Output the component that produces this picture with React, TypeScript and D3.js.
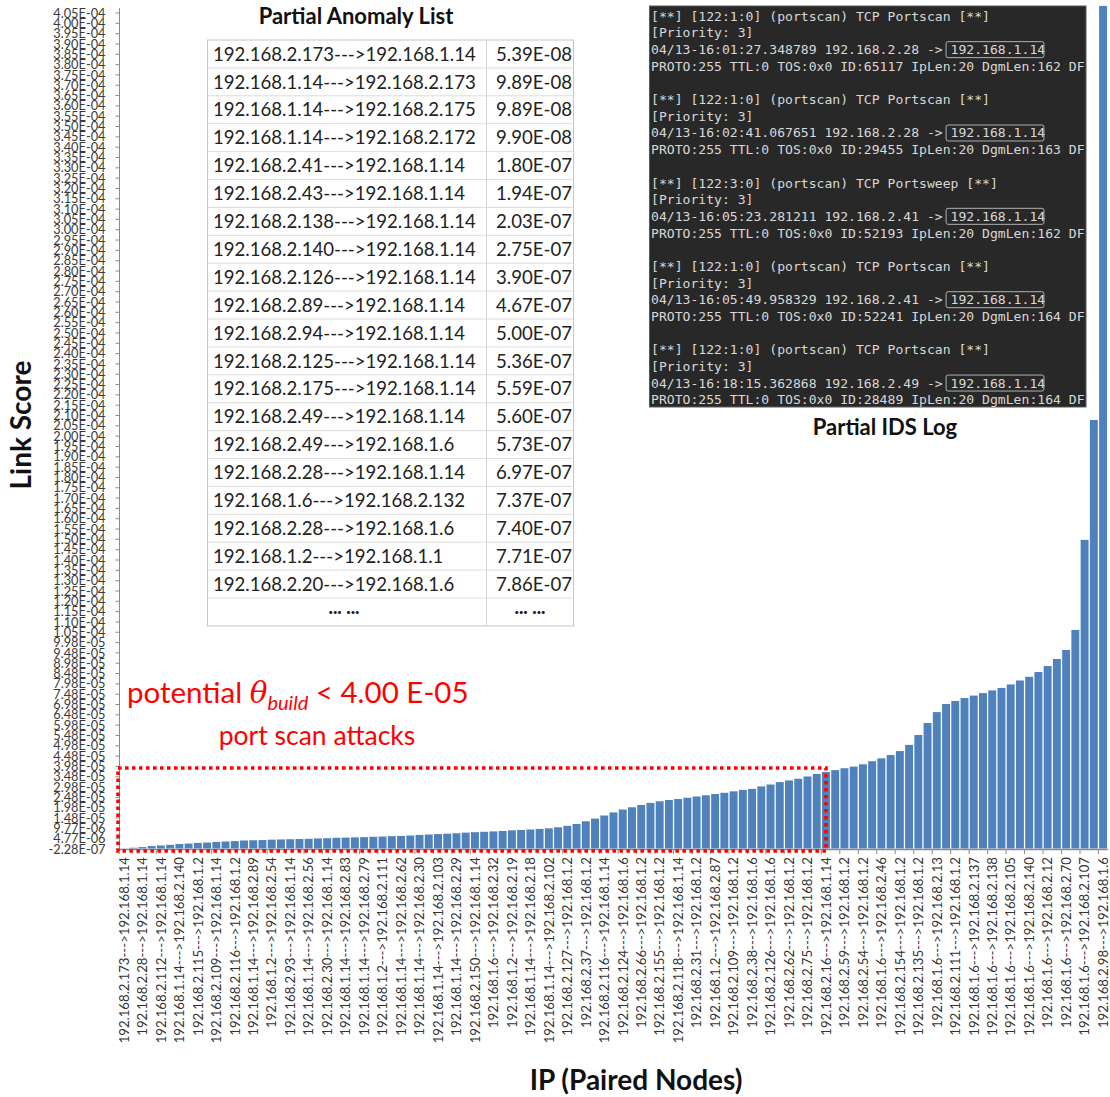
import React from "react";
import * as d3 from "d3";

// Sorted link scores for paired nodes (one bar per pair shown)
const linkScores = [
  5.39e-8, 3.9e-7, 6.97e-7, 1.2e-6, 1.47e-6, 1.8e-6, 2.2e-6, 2.4e-6, 2.7e-6, 2.9e-6,
  3.2e-6, 3.4e-6, 3.6e-6, 3.9e-6, 4.0e-6, 4.1e-6, 4.3e-6, 4.4e-6, 4.5e-6, 4.6e-6,
  4.7e-6, 4.9e-6, 5.0e-6, 5.2e-6, 5.3e-6, 5.4e-6, 5.5e-6, 5.7e-6, 5.8e-6, 6.0e-6,
  6.1e-6, 6.3e-6, 6.6e-6, 6.8e-6, 7.0e-6, 7.2e-6, 7.4e-6, 7.7e-6, 7.9e-6, 8.1e-6,
  8.3e-6, 8.5e-6, 8.8e-6, 9.0e-6, 9.2e-6, 9.5e-6, 9.8e-6, 1.03e-5, 1.10e-5, 1.19e-5,
  1.32e-5, 1.45e-5, 1.60e-5, 1.75e-5, 1.89e-5, 2.00e-5, 2.11e-5, 2.21e-5, 2.29e-5, 2.35e-5,
  2.40e-5, 2.46e-5, 2.52e-5, 2.58e-5, 2.64e-5, 2.70e-5, 2.77e-5, 2.84e-5, 2.89e-5, 3.01e-5,
  3.10e-5, 3.22e-5, 3.30e-5, 3.38e-5, 3.49e-5, 3.61e-5, 3.71e-5, 3.80e-5, 3.89e-5, 3.97e-5,
  4.08e-5, 4.23e-5, 4.37e-5, 4.53e-5, 4.72e-5, 5.02e-5, 5.50e-5, 6.08e-5, 6.61e-5, 7.00e-5,
  7.15e-5, 7.29e-5, 7.41e-5, 7.53e-5, 7.66e-5, 7.78e-5, 7.95e-5, 8.14e-5, 8.32e-5, 8.55e-5,
  8.84e-5, 9.18e-5, 9.62e-5, 1.059e-4, 1.495e-4, 2.076e-4, 4.082e-4,
];

// Category labels, printed on every second pair
const pairLabels = [
  "192.168.2.173--->192.168.1.14", "192.168.2.28--->192.168.1.14", "192.168.2.112--->192.168.1.14",
  "192.168.1.14--->192.168.2.140", "192.168.2.115--->192.168.1.2", "192.168.2.109--->192.168.1.14",
  "192.168.2.116--->192.168.1.2", "192.168.1.14--->192.168.2.89", "192.168.1.2--->192.168.2.54",
  "192.168.2.93--->192.168.1.14", "192.168.1.14--->192.168.2.56", "192.168.2.30--->192.168.1.14",
  "192.168.1.14--->192.168.2.83", "192.168.1.14--->192.168.2.79", "192.168.1.2--->192.168.2.111",
  "192.168.1.14--->192.168.2.62", "192.168.1.14--->192.168.2.30", "192.168.1.14--->192.168.2.103",
  "192.168.1.14--->192.168.2.29", "192.168.2.150--->192.168.1.14", "192.168.1.6--->192.168.2.32",
  "192.168.1.2--->192.168.2.19", "192.168.1.14--->192.168.2.18", "192.168.1.14--->192.168.2.102",
  "192.168.2.127--->192.168.1.2", "192.168.2.37--->192.168.1.2", "192.168.2.116--->192.168.1.14",
  "192.168.2.124--->192.168.1.6", "192.168.2.66--->192.168.1.2", "192.168.2.155--->192.168.1.2",
  "192.168.2.118--->192.168.1.14", "192.168.2.31--->192.168.1.2", "192.168.1.2--->192.168.2.87",
  "192.168.2.109--->192.168.1.2", "192.168.2.38--->192.168.1.6", "192.168.2.126--->192.168.1.6",
  "192.168.2.62--->192.168.1.2", "192.168.2.75--->192.168.1.2", "192.168.2.16--->192.168.1.14",
  "192.168.2.59--->192.168.1.2", "192.168.2.54--->192.168.1.2", "192.168.1.6--->192.168.2.46",
  "192.168.2.154--->192.168.1.2", "192.168.2.135--->192.168.1.2", "192.168.1.6--->192.168.2.13",
  "192.168.2.111--->192.168.1.2", "192.168.1.6--->192.168.2.137", "192.168.1.6--->192.168.2.138",
  "192.168.1.6--->192.168.2.105", "192.168.1.6--->192.168.2.140", "192.168.1.6--->192.168.2.12",
  "192.168.1.6--->192.168.2.70", "192.168.1.6--->192.168.2.107", "192.168.2.98--->192.168.1.6",
];
const labelEvery = 2;

// Y axis: start value, step and count of ticks
const yTickStart = -2.28e-7;
const yTickStep = 5e-6;
const yTickCount = 82;

// Threshold for potential attacks and the last pair inside it
const thetaBuild = 4.0e-5;
const lastAttackIndex = 76;

// Partial anomaly list
const anomalyPairs = [
  "192.168.2.173--->192.168.1.14", "192.168.1.14--->192.168.2.173", "192.168.1.14--->192.168.2.175",
  "192.168.1.14--->192.168.2.172", "192.168.2.41--->192.168.1.14", "192.168.2.43--->192.168.1.14",
  "192.168.2.138--->192.168.1.14", "192.168.2.140--->192.168.1.14", "192.168.2.126--->192.168.1.14",
  "192.168.2.89--->192.168.1.14", "192.168.2.94--->192.168.1.14", "192.168.2.125--->192.168.1.14",
  "192.168.2.175--->192.168.1.14", "192.168.2.49--->192.168.1.14", "192.168.2.49--->192.168.1.6",
  "192.168.2.28--->192.168.1.14", "192.168.1.6--->192.168.2.132", "192.168.2.28--->192.168.1.6",
  "192.168.1.2--->192.168.1.1", "192.168.2.20--->192.168.1.6",
];
const anomalyScores = [
  "5.39E-08", "9.89E-08", "9.89E-08", "9.90E-08", "1.80E-07", "1.94E-07", "2.03E-07", "2.75E-07",
  "3.90E-07", "4.67E-07", "5.00E-07", "5.36E-07", "5.59E-07", "5.60E-07", "5.73E-07", "6.97E-07",
  "7.37E-07", "7.40E-07", "7.71E-07", "7.86E-07",
];

// Partial IDS log entries
const logSignatures = [
  "[**] [122:1:0] (portscan) TCP Portscan [**]",
  "[**] [122:1:0] (portscan) TCP Portscan [**]",
  "[**] [122:3:0] (portscan) TCP Portsweep [**]",
  "[**] [122:1:0] (portscan) TCP Portscan [**]",
  "[**] [122:1:0] (portscan) TCP Portscan [**]",
];
const logTimes = ["04/13-16:01:27.348789", "04/13-16:02:41.067651", "04/13-16:05:23.281211", "04/13-16:05:49.958329", "04/13-16:18:15.362868"];
const logSources = ["192.168.2.28", "192.168.2.28", "192.168.2.41", "192.168.2.41", "192.168.2.49"];
const logTarget = "192.168.1.14";
const logIds = ["65117", "29455", "52193", "52241", "28489"];
const logDgmLens = ["162", "163", "162", "164", "164"];

const fmtE = (v: number) => {
  const [m, e] = v.toExponential(2).split("e");
  const n = parseInt(e, 10);
  return `${m}E${n < 0 ? "-" : "+"}${String(Math.abs(n)).padStart(2, "0")}`;
};

const SANS = "Lato, 'Open Sans', sans-serif";
const MONO = "'DejaVu Sans Mono', 'Liberation Mono', monospace";

export default function App() {
  const W = 1110;
  const H = 1097;
  const plot = { left: 119.5, right: 1107.5, top: 13, bottom: 849 };

  const yTicks = d3.range(yTickCount).map((k) => yTickStart + k * yTickStep);
  const y = d3
    .scaleLinear()
    .domain([yTicks[0], yTicks[yTicks.length - 1]])
    .range([plot.bottom, plot.top]);
  const x = d3
    .scaleBand<number>()
    .domain(d3.range(linkScores.length))
    .range([plot.left, plot.right])
    .paddingInner(0.14)
    .paddingOuter(0.05);
  const bw = x.bandwidth();
  const step = x.step();

  const base = y(0);

  // table geometry
  const tbl = { left: 207.5, mid: 486.5, right: 573.5, top: 40, row: 27.9 };
  const nRows = anomalyPairs.length + 1;

  // log geometry
  const log = { left: 649.5, top: 6, width: 436.5, height: 401, x: 651, first: 20.8, line: 16.67, cw: 7.89 };
  const logLines: string[] = [];
  logSignatures.forEach((sig, i) => {
    logLines.push(sig);
    logLines.push("[Priority: 3]");
    logLines.push(`${logTimes[i]} ${logSources[i]} -> ${logTarget}`);
    logLines.push(`PROTO:255 TTL:0 TOS:0x0 ID:${logIds[i]} IpLen:20 DgmLen:${logDgmLens[i]} DF`);
    if (i < logSignatures.length - 1) logLines.push("");
  });

  const boxRight = (x(lastAttackIndex) ?? 0) + bw / 2;
  const boxTop = y(thetaBuild) + 2;

  return (
    <svg
      width={W}
      height={H}
      style={{ position: "absolute", left: 0, top: 0, background: "#fff" }}
      fontFamily={SANS}
    >
      {/* bars */}
      <g fill="#4F81BD">
        {linkScores.map((v, i) => (
          <rect key={i} x={x(i)} y={y(v)} width={bw} height={Math.max(0, base - y(v))} />
        ))}
      </g>

      {/* y axis */}
      <line x1={plot.left} x2={plot.left} y1={8} y2={plot.bottom + 1} stroke="#8a8a8a" />
      <g fontSize={12.8} fill="#3a3a3a" textAnchor="end">
        {yTicks.map((t, k) => (
          <g key={k}>
            <line x1={plot.left - 4} x2={plot.left} y1={y(t)} y2={y(t)} stroke="#8a8a8a" />
            <text x={105.5} y={y(t)} dy="0.36em">
              {fmtE(t)}
            </text>
          </g>
        ))}
      </g>

      {/* x axis */}
      <line x1={plot.left} x2={plot.right + 0.5} y1={plot.bottom + 0.5} y2={plot.bottom + 0.5} stroke="#8a8a8a" strokeWidth={1.5} />
      <g stroke="#8a8a8a">
        {d3.range(0, linkScores.length + 1, labelEvery).map((i) => {
          const xx = plot.left + step * 0.05 + i * step - (step - bw) / 2;
          return <line key={i} x1={xx} x2={xx} y1={plot.bottom} y2={plot.bottom + 5} />;
        })}
      </g>
      <g fontSize={13.2} fill="#333" textAnchor="end">
        {pairLabels.map((lab, k) => {
          const i = k * labelEvery;
          const cx = (x(i) ?? 0) + bw / 2;
          return (
            <text key={k} transform={`translate(${cx},857) rotate(-90)`} dy="0.36em">
              {lab}
            </text>
          );
        })}
      </g>

      {/* axis titles */}
      <text transform="translate(31,425) rotate(-90)" textAnchor="middle" fontSize={28} fontWeight={700} fill="#111">
        Link Score
      </text>
      <text x={636} y={1090} textAnchor="middle" fontSize={28} fontWeight={700} fill="#111">
        IP (Paired Nodes)
      </text>

      {/* threshold box */}
      <rect
        x={118}
        y={boxTop}
        width={boxRight - 118}
        height={plot.bottom + 2 - boxTop}
        fill="none"
        stroke="#ff0000"
        strokeWidth={3.5}
        strokeDasharray="3.5 3.5"
      />
      <text x={127} y={703} fontSize={29.5} fill="#ff0000">
        potential{" "}
        <tspan fontFamily="'DejaVu Serif', serif" fontStyle="italic">θ</tspan>
        <tspan fontStyle="italic" fontSize={20} dy={7}>build</tspan>
        <tspan dy={-7}> &lt; 4.00 E-05</tspan>
      </text>
      <text x={317} y={745} fontSize={26.5} fill="#ff0000" textAnchor="middle">
        port scan attacks
      </text>

      {/* anomaly table */}
      <text x={356} y={24} textAnchor="middle" fontSize={22} fontWeight={700} fill="#111">
        Partial Anomaly List
      </text>
      <rect x={tbl.left} y={tbl.top} width={tbl.right - tbl.left} height={nRows * tbl.row} fill="#fff" stroke="#c6c6c6" />
      <line x1={tbl.mid} x2={tbl.mid} y1={tbl.top} y2={tbl.top + nRows * tbl.row} stroke="#d4d4d4" />
      {d3.range(1, nRows).map((r) => (
        <line key={r} x1={tbl.left} x2={tbl.right} y1={tbl.top + r * tbl.row} y2={tbl.top + r * tbl.row} stroke="#dcdcdc" />
      ))}
      <g fontSize={18.6} fill="#222">
        {anomalyPairs.map((p, r) => (
          <g key={r}>
            <text x={213} y={tbl.top + (r + 0.5) * tbl.row} dy="0.36em">
              {p}
            </text>
            <text x={496} y={tbl.top + (r + 0.5) * tbl.row} dy="0.36em">
              {anomalyScores[r]}
            </text>
          </g>
        ))}
        <text x={344} y={tbl.top + (nRows - 0.5) * tbl.row} dy="0.1em" textAnchor="middle" fontWeight={900}>
          ... ...
        </text>
        <text x={530} y={tbl.top + (nRows - 0.5) * tbl.row} dy="0.1em" textAnchor="middle" fontWeight={900}>
          ... ...
        </text>
      </g>

      {/* IDS log */}
      <rect x={log.left} y={log.top} width={log.width} height={log.height} fill="#282828" stroke="#5a5a5a" />
      <g fontFamily={MONO} fontSize={13.1} fill="#d8d8d8">
        {logLines.map((ln, i) => (
          <text key={i} x={log.x} y={log.first + i * log.line} xmlSpace="preserve">
            {ln}
          </text>
        ))}
      </g>
      {logSignatures.map((_, g) => {
        const li = g * 5 + 2;
        const cy = log.first + li * log.line - 4.5;
        const start = logLines[li].indexOf(logTarget);
        return (
          <rect
            key={g}
            x={log.x + (start - 0.6) * log.cw}
            y={cy - 8}
            width={(logTarget.length + 0.4) * log.cw}
            height={16}
            rx={2}
            fill="none"
            stroke="#b0b0b0"
          />
        );
      })}
      <text x={885} y={435} textAnchor="middle" fontSize={22} fontWeight={700} fill="#111">
        Partial IDS Log
      </text>
    </svg>
  );
}
